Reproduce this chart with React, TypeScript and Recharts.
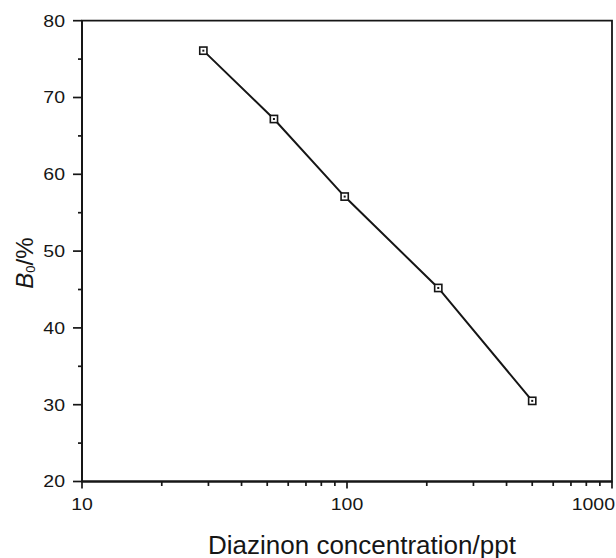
import React from 'react';
import { LineChart, Line, XAxis, YAxis, ReferenceArea } from 'recharts';

// Diazinon concentration (ppt) and B/B0 (%)
const concentrations = [28.7, 53, 98, 221, 500];
const bPercent = [76.1, 67.2, 57.1, 45.2, 30.5];

const xMajorTicks = [10, 100, 1000];
const xMinorTicks = [20, 30, 40, 50, 60, 70, 80, 90, 200, 300, 400, 500, 600, 700, 800, 900];
const yMajorTicks = [20, 30, 40, 50, 60, 70, 80];
const yMinorTicks = [25, 35, 45, 55, 65, 75];

const xTitle = 'Diazinon concentration/ppt';

const data = concentrations.map((c, i) => ({ conc: c, b: bPercent[i] }));
const xTicks = [...xMajorTicks, ...xMinorTicks].sort((a, b) => a - b);
const yTicks = [...yMajorTicks, ...yMinorTicks].sort((a, b) => a - b);

const INK = '#161616';
const FONT = '"Liberation Sans", Arial, Helvetica, sans-serif';

const renderXTick = (props: any) => {
  const { x, y, payload, index } = props;
  const v = payload.value;
  const major = xMajorTicks.includes(v);
  const isLast = v === xMajorTicks[xMajorTicks.length - 1];
  return (
    <g key={`xt${index}`}>
      <path d={`M${x},${y}L${x},${y + (major ? 7 : 4.5)}`} stroke={INK} strokeWidth={1.7} fill="none" />
      {major && (
        <g transform={`translate(${isLast ? x + 3 : x},${y + 28}) scale(1.18,1)`}>
          <text x={0} y={0} textAnchor={isLast ? 'end' : 'middle'} fontSize={16.5} fill={INK} fontFamily={FONT}>
            {v}
          </text>
        </g>
      )}
    </g>
  );
};

const renderYTick = (props: any) => {
  const { x, y, payload, index } = props;
  const v = payload.value;
  const major = yMajorTicks.includes(v);
  return (
    <g key={`yt${index}`}>
      <path d={`M${x},${y}L${x - (major ? 9 : 4)},${y}`} stroke={INK} strokeWidth={1.7} fill="none" />
      {major && (
        <g transform={`translate(${x - 17},${y + 5.9}) scale(1.18,1)`}>
          <text x={0} y={0} textAnchor="end" fontSize={16.5} fill={INK} fontFamily={FONT}>
            {v}
          </text>
        </g>
      )}
    </g>
  );
};

const SquareDot = (p: any) => {
  const { cx, cy, index } = p;
  if (cx == null || cy == null) return <g key={`d${index}`} />;
  return (
    <g key={`d${index}`}>
      <rect x={cx - 3.6} y={cy - 3.6} width={7.2} height={7.2} fill="#fff" stroke={INK} strokeWidth={1.6} />
      <rect x={cx - 1} y={cy - 1} width={2} height={2} fill={INK} />
    </g>
  );
};

const XTitle = (props: any) => {
  const vb = props.viewBox || { x: 82, y: 481.5, width: 530, height: 76.5 };
  return (
    <text x={vb.x + 126} y={vb.y + 72} textAnchor="start" fontSize={26} fill={INK} fontFamily={FONT}>
      {xTitle}
    </text>
  );
};

const YTitle = (props: any) => {
  const vb = props.viewBox || { x: 0, y: 20.7, width: 82, height: 460.8 };
  const tx = vb.x + 33;
  const ty = vb.y + 268;
  return (
    <text transform={`translate(${tx},${ty}) rotate(-90)`} x={0} y={0} textAnchor="start" fontSize={24} fill={INK} fontFamily={FONT}>
      <tspan fontStyle="italic">B</tspan>
      <tspan fontSize={13} dy={2}>0</tspan>
      <tspan dy={-2}>/%</tspan>
    </text>
  );
};

export default function App() {
  return (
    <div style={{ position: 'absolute', left: 0, top: 0, width: 616, height: 558, background: '#fff', overflow: 'hidden' }}>
      <LineChart width={616} height={558} data={data} margin={{ top: 20.7, right: 4, left: 0, bottom: 0 }}>
        <ReferenceArea
          x1={xMajorTicks[0]}
          x2={xMajorTicks[xMajorTicks.length - 1]}
          y1={yMajorTicks[0]}
          y2={yMajorTicks[yMajorTicks.length - 1]}
          fill="none"
          fillOpacity={0}
          stroke={INK}
          strokeWidth={1.8}
          ifOverflow="visible"
        />
        <XAxis
          dataKey="conc"
          type="number"
          scale="log"
          domain={[10, 1000]}
          allowDataOverflow
          ticks={xTicks}
          interval={0}
          tickSize={0}
          tickMargin={0}
          tickLine={false}
          tick={renderXTick}
          height={76.5}
          axisLine={{ stroke: INK, strokeWidth: 1.8 }}
          label={<XTitle />}
        />
        <YAxis
          type="number"
          domain={[20, 80]}
          allowDataOverflow
          ticks={yTicks}
          interval={0}
          tickSize={0}
          tickMargin={0}
          tickLine={false}
          tick={renderYTick}
          width={82}
          axisLine={{ stroke: INK, strokeWidth: 1.8 }}
          label={<YTitle />}
        />
        <Line
          type="linear"
          dataKey="b"
          stroke={INK}
          strokeWidth={2}
          dot={SquareDot}
          activeDot={false}
          isAnimationActive={false}
        />
      </LineChart>
    </div>
  );
}
